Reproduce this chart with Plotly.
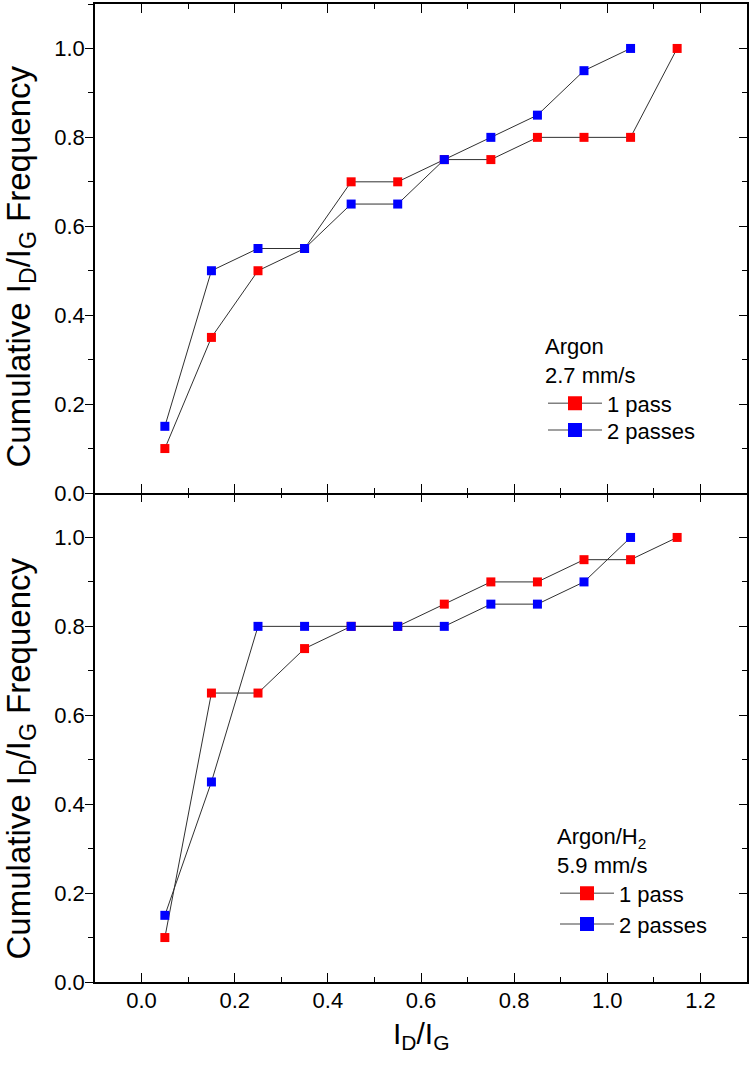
import plotly.graph_objects as go

# ---- data ----
x_1pass = [0.05, 0.15, 0.25, 0.35, 0.45, 0.55, 0.65, 0.75, 0.85, 0.95, 1.05, 1.15]
x_2pass = [0.05, 0.15, 0.25, 0.35, 0.45, 0.55, 0.65, 0.75, 0.85, 0.95, 1.05]
argon_1pass = [0.10, 0.35, 0.50, 0.55, 0.70, 0.70, 0.75, 0.75, 0.80, 0.80, 0.80, 1.00]
argon_2pass = [0.15, 0.50, 0.55, 0.55, 0.65, 0.65, 0.75, 0.80, 0.85, 0.95, 1.00]
argonh2_1pass = [0.10, 0.65, 0.65, 0.75, 0.80, 0.80, 0.85, 0.90, 0.90, 0.95, 0.95, 1.00]
argonh2_2pass = [0.15, 0.45, 0.80, 0.80, 0.80, 0.80, 0.80, 0.85, 0.85, 0.90, 1.00]
x_ticks = [0.0, 0.2, 0.4, 0.6, 0.8, 1.0, 1.2]
y_ticks = [0.0, 0.2, 0.4, 0.6, 0.8, 1.0]
series_names = ["1 pass", "2 passes"]
series_colors = ["#ff0000", "#0000ff"]

FONT = "Liberation Sans, Arial, sans-serif"
LINE = "#303030"

fig = go.Figure()

panels = [
    ("x2", "y2", argon_1pass, argon_2pass, ["legend", "legend3"]),
    ("x", "y", argonh2_1pass, argonh2_2pass, ["legend2", "legend4"]),
]
for xa, ya, s1, s2, lgs in panels:
    for xs, ys, name, col in [(x_1pass, s1, series_names[0], series_colors[0]),
                              (x_2pass, s2, series_names[1], series_colors[1])]:
        fig.add_trace(go.Scatter(
            x=xs, y=ys, xaxis=xa, yaxis=ya, mode="lines+markers",
            line=dict(color=LINE, width=1),
            marker=dict(symbol="square", size=9, color=col, line=dict(width=0)),
            showlegend=False, hoverinfo="skip"))
    for name, col, lg in zip(series_names, series_colors, lgs):
        fig.add_trace(go.Scatter(
            x=[None], y=[None], xaxis=xa, yaxis=ya, mode="lines+markers",
            name=name, legend=lg,
            line=dict(color="#808080", width=1.5),
            marker=dict(symbol="square", size=14, color=col, line=dict(width=0))))

# dummy traces for extra tick-only axes
fig.add_trace(go.Scatter(x=[None], y=[None], xaxis="x", yaxis="y3", showlegend=False))
fig.add_trace(go.Scatter(x=[None], y=[None], xaxis="x2", yaxis="y4", showlegend=False))
fig.add_trace(go.Scatter(x=[None], y=[None], xaxis="x3", yaxis="y", showlegend=False))

tickfont = dict(family=FONT, size=22, color="black")
minor_in = dict(ticks="inside", ticklen=5, dtick=0.1, tick0=0, tickcolor="black", tickwidth=1.2)
minor_out = dict(ticks="outside", ticklen=5, dtick=0.1, tick0=0, tickcolor="black", tickwidth=1.2)
xcommon = dict(range=[-0.1, 1.3], tickvals=x_ticks, ticktext=[f"{v:.1f}" for v in x_ticks],
               ticks="inside", ticklen=9, tickwidth=1.2, tickcolor="black", minor=minor_in,
               showline=True, linecolor="black", linewidth=1.5,
               showgrid=False, zeroline=False, tickfont=tickfont, ticklabelstandoff=-2)
ycommon = dict(range=[0, 1.1], tickvals=y_ticks, ticktext=[f"{v:.1f}" for v in y_ticks],
               ticks="outside", ticklen=8, tickwidth=1.2, tickcolor="black", minor=minor_out,
               showline=True, linecolor="black", linewidth=1.5,
               showgrid=False, zeroline=False, tickfont=tickfont, ticklabelstandoff=-4)
yright = dict(range=[0, 1.1], tickvals=y_ticks, showticklabels=False, side="right",
              ticks="inside", ticklen=8, tickwidth=1.2, tickcolor="black", minor=minor_in,
              showline=True, linecolor="black", linewidth=1.5,
              showgrid=False, zeroline=False)

legcommon = dict(font=dict(family=FONT, size=22, color="black"), bgcolor="rgba(0,0,0,0)",
                 borderwidth=0, xanchor="left", yanchor="top", itemwidth=54,
                 tracegroupgap=0, itemclick=False, itemdoubleclick=False)
titlefont = dict(family=FONT, size=22, color="black")

fig.update_layout(
    width=750, height=1065,
    margin=dict(l=95, r=3, t=2, b=83),
    paper_bgcolor="white", plot_bgcolor="white",
    font=dict(family=FONT, color="black"),
    xaxis=dict(**xcommon, domain=[0, 1], anchor="y", mirror=False),
    xaxis2=dict(**xcommon, domain=[0, 1], anchor="y2", matches="x", showticklabels=False, mirror="ticks"),
    xaxis3=dict(range=[-0.1, 1.3], tickvals=x_ticks, showticklabels=False, side="top",
                overlaying="x", anchor="y", ticks="inside", ticklen=9, tickwidth=1.2,
                tickcolor="black", minor=minor_in, showline=False, showgrid=False, zeroline=False),
    yaxis=dict(**ycommon, domain=[0, 0.5], anchor="x"),
    yaxis2=dict(**ycommon, domain=[0.5, 1], anchor="x2"),
    yaxis3=dict(**yright, overlaying="y", anchor="x"),
    yaxis4=dict(**yright, overlaying="y2", anchor="x2"),
    legend=dict(**legcommon, x=(543 - 95) / 652, y=(982 - 324) / 980,
                title=dict(text="Argon<br>2.7 mm/s", font=titlefont)),
    legend3=dict(**legcommon, x=(543 - 95) / 652, y=(982 - 408) / 980),
    legend2=dict(**legcommon, x=(555 - 95) / 652, y=(982 - 815) / 980,
                 title=dict(text="Argon/H<sub>2</sub><br>5.9 mm/s", font=titlefont)),
    legend4=dict(**legcommon, x=(555 - 95) / 652, y=(982 - 903) / 980),
    annotations=[
        dict(text="Cumulative I<sub>D</sub>/I<sub>G</sub> Frequency", textangle=-90,
             xref="paper", yref="paper", x=(21 - 95) / 652, y=(982 - 265) / 980,
             xanchor="center", yanchor="middle",
             showarrow=False, font=dict(family=FONT, size=33, color="black")),
        dict(text="Cumulative I<sub>D</sub>/I<sub>G</sub> Frequency", textangle=-90,
             xref="paper", yref="paper", x=(21 - 95) / 652, y=(982 - 758) / 980,
             xanchor="center", yanchor="middle",
             showarrow=False, font=dict(family=FONT, size=33, color="black")),
        dict(text="I<sub>D</sub>/I<sub>G</sub>", xref="paper", yref="paper",
             x=0.5, y=(982 - 1036) / 980, xanchor="center", yanchor="middle",
             showarrow=False, font=dict(family=FONT, size=30, color="black")),
    ],
)

fig.write_html("out.html", config={"displayModeBar": False},
               post_script="document.body.style.margin='0';")
